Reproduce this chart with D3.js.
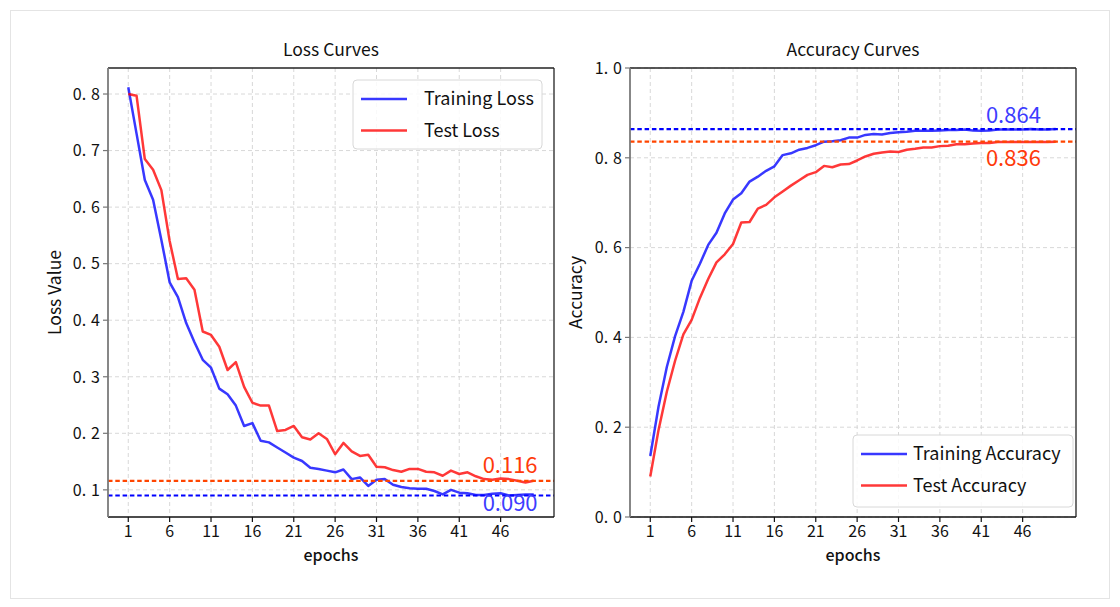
<!DOCTYPE html>
<html>
<head>
<meta charset="utf-8">
<script src="https://cdn.jsdelivr.net/npm/d3@7"></script>
<style>
    body { margin: 0; background: #fff; }
    svg text { font-family: "Noto Sans CJK SC", "Noto Sans", sans-serif; fill: #111; }
</style>
</head>
<body>
<div id="chart"></div>
<script>
// ---- data ----
const epochs = d3.range(1, 51);

const trainLoss = [
    0.812, 0.730, 0.648, 0.613, 0.542, 0.467, 0.441, 0.395, 0.361, 0.330,
    0.316, 0.279, 0.269, 0.249, 0.213, 0.218, 0.187, 0.184, 0.175, 0.166,
    0.157, 0.151, 0.139, 0.137, 0.134, 0.131, 0.136, 0.119, 0.122, 0.107,
    0.118, 0.119, 0.109, 0.105, 0.103, 0.102, 0.102, 0.098, 0.092, 0.100,
    0.095, 0.094, 0.091, 0.091, 0.093, 0.094, 0.090, 0.091, 0.092, 0.092
];
const testLoss = [
    0.800, 0.797, 0.685, 0.666, 0.630, 0.540, 0.473, 0.474, 0.454, 0.380,
    0.374, 0.353, 0.312, 0.326, 0.282, 0.254, 0.249, 0.249, 0.204, 0.206,
    0.213, 0.193, 0.189, 0.200, 0.190, 0.163, 0.183, 0.168, 0.160, 0.162,
    0.141, 0.140, 0.135, 0.132, 0.137, 0.137, 0.132, 0.131, 0.125, 0.134,
    0.128, 0.131, 0.124, 0.119, 0.118, 0.120, 0.119, 0.116, 0.113, 0.116
];
const trainAcc = [
    0.136, 0.246, 0.334, 0.403, 0.457, 0.526, 0.564, 0.606, 0.633, 0.676,
    0.707, 0.721, 0.747, 0.758, 0.771, 0.781, 0.806, 0.810, 0.818, 0.822,
    0.828, 0.836, 0.837, 0.839, 0.845, 0.845, 0.851, 0.853, 0.852, 0.855,
    0.857, 0.858, 0.860, 0.860, 0.860, 0.861, 0.862, 0.862, 0.863, 0.861,
    0.860, 0.861, 0.863, 0.863, 0.863, 0.863, 0.864, 0.863, 0.863, 0.864
];
const testAcc = [
    0.090, 0.194, 0.279, 0.348, 0.407, 0.439, 0.488, 0.530, 0.567, 0.585,
    0.608, 0.656, 0.657, 0.687, 0.695, 0.712, 0.725, 0.738, 0.750, 0.762,
    0.768, 0.782, 0.779, 0.785, 0.786, 0.794, 0.803, 0.809, 0.812, 0.814,
    0.813, 0.818, 0.820, 0.823, 0.823, 0.826, 0.827, 0.830, 0.830, 0.832,
    0.833, 0.833, 0.835, 0.835, 0.835, 0.835, 0.835, 0.835, 0.835, 0.836
];

const xTicks = [1, 6, 11, 16, 21, 26, 31, 36, 41, 46];
const lossTicks = [0.1, 0.2, 0.3, 0.4, 0.5, 0.6, 0.7, 0.8];
const accTicks = [0.0, 0.2, 0.4, 0.6, 0.8, 1.0];

const lossRefs = { train: 0.090, test: 0.116 };
const accRefs = { train: 0.864, test: 0.836 };

// ---- page ----
const width = 1120;
const height = 607;

const svg = d3.select('#chart')
    .append('svg')
    .attr('width', width)
    .attr('height', height);

svg.append('rect')
    .attr('x', 10.5).attr('y', 10.5)
    .attr('width', 1099).attr('height', 588)
    .attr('fill', '#fff')
    .attr('stroke', '#e4e4e4');

const trainColor = 'rgba(0, 0, 255, 0.78)';
const testColor = 'rgba(255, 0, 0, 0.78)';
const trainRef = '#0000ff';
const testRef = '#ff4500';

function drawPanel(cfg) {
    const x0 = cfg.left, x1 = cfg.right, y0 = 68, y1 = 517;

    const x = d3.scaleLinear().domain([-1.45, 52.45]).range([x0, x1]);
    const y = d3.scaleLinear().domain(cfg.yDomain).range([y1, y0]);

    const g = svg.append('g');

    // grid
    cfg.yTicks.forEach(function(t) {
        g.append('line')
            .attr('x1', x0).attr('x2', x1)
            .attr('y1', y(t)).attr('y2', y(t))
            .attr('stroke', '#d4d4d4').attr('stroke-width', 0.9)
            .attr('stroke-dasharray', '4,3');
    });
    xTicks.forEach(function(t) {
        g.append('line')
            .attr('x1', x(t)).attr('x2', x(t))
            .attr('y1', y0).attr('y2', y1)
            .attr('stroke', '#d4d4d4').attr('stroke-width', 0.9)
            .attr('stroke-dasharray', '4,3');
    });

    // curves
    const line = d3.line()
        .x(function(d, i) { return x(epochs[i]); })
        .y(function(d) { return y(d); });

    g.append('path').datum(cfg.train)
        .attr('d', line).attr('fill', 'none')
        .attr('stroke', trainColor).attr('stroke-width', 2.5)
        .attr('stroke-linejoin', 'round');
    g.append('path').datum(cfg.test)
        .attr('d', line).attr('fill', 'none')
        .attr('stroke', testColor).attr('stroke-width', 2.5)
        .attr('stroke-linejoin', 'round');

    // reference lines
    [[cfg.refs.test, testRef], [cfg.refs.train, trainRef]].forEach(function(r) {
        g.append('line')
            .attr('x1', x0).attr('x2', x1)
            .attr('y1', y(r[0])).attr('y2', y(r[0]))
            .attr('stroke', r[1]).attr('stroke-width', 2.2)
            .attr('stroke-dasharray', '4.5,2.8');
    });

    // spines
    g.append('line').attr('x1', x0).attr('x2', x1).attr('y1', y0).attr('y2', y0)
        .attr('stroke', '#222').attr('stroke-width', 1.3);
    g.append('line').attr('x1', x1).attr('x2', x1).attr('y1', y0).attr('y2', y1)
        .attr('stroke', '#222').attr('stroke-width', 1.3);
    g.append('line').attr('x1', x0).attr('x2', x1).attr('y1', y1).attr('y2', y1)
        .attr('stroke', '#111').attr('stroke-width', 1.5);
    g.append('line').attr('x1', x0).attr('x2', x0).attr('y1', y0).attr('y2', y1)
        .attr('stroke', '#7a7a7a').attr('stroke-width', 1.8);

    // x ticks
    xTicks.forEach(function(t) {
        g.append('line')
            .attr('x1', x(t)).attr('x2', x(t))
            .attr('y1', y1).attr('y2', y1 + 5)
            .attr('stroke', '#111').attr('stroke-width', 1.2);
        g.append('text')
            .attr('x', x(t)).attr('y', y1 + 20)
            .attr('text-anchor', 'middle')
            .attr('font-size', '16px')
            .text(t);
    });

    // y ticks, with the wide gap after the decimal point
    cfg.yTicks.forEach(function(t) {
        g.append('line')
            .attr('x1', x0 - 5).attr('x2', x0)
            .attr('y1', y(t)).attr('y2', y(t))
            .attr('stroke', '#777').attr('stroke-width', 1.2);
        const s = t.toFixed(1).split('.');
        const lbl = g.append('text')
            .attr('x', x0 - 8).attr('y', y(t))
            .attr('dy', '0.36em')
            .attr('text-anchor', 'end')
            .attr('font-size', '16px');
        lbl.append('tspan').text(s[0] + '.');
        lbl.append('tspan').attr('dx', 5).text(s[1]);
    });

    // titles
    g.append('text')
        .attr('x', (x0 + x1) / 2).attr('y', 56)
        .attr('text-anchor', 'middle')
        .attr('font-size', '17.5px')
        .text(cfg.title);
    g.append('text')
        .attr('x', (x0 + x1) / 2).attr('y', 561)
        .attr('text-anchor', 'middle')
        .attr('font-size', '16px')
        .attr('font-weight', 500)
        .text('epochs');
    g.append('text')
        .attr('transform', 'translate(' + cfg.yLabelX + ',' + ((y0 + y1) / 2) + ') rotate(-90)')
        .attr('text-anchor', 'middle')
        .attr('font-size', '17.5px')
        .text(cfg.yLabel);

    // value labels by the reference lines
    cfg.notes.forEach(function(n) {
        g.append('text')
            .attr('x', x0 + (x1 - x0) * n.fx)
            .attr('y', y(n.value) + n.dy)
            .attr('font-size', '22px')
            .style('fill', n.color)
            .text(n.value.toFixed(3));
    });

    // legend
    const L = cfg.legend;
    const legend = g.append('g');
    legend.append('rect')
        .attr('x', L.x).attr('y', L.y)
        .attr('width', L.w).attr('height', L.h)
        .attr('rx', 4)
        .attr('fill', 'rgba(255,255,255,0.85)')
        .attr('stroke', '#d8d8d8').attr('stroke-width', 1);
    [[cfg.labels[0], trainColor], [cfg.labels[1], testColor]].forEach(function(item, i) {
        const ly = L.y + L.row0 + i * 31.5;
        legend.append('line')
            .attr('x1', L.x + 8).attr('x2', L.x + 54)
            .attr('y1', ly).attr('y2', ly)
            .attr('stroke', item[1]).attr('stroke-width', 2.5);
        legend.append('text')
            .attr('x', L.x + L.textDx).attr('y', ly + 6)
            .attr('font-size', '18px')
            .text(item[0]);
    });
}

drawPanel({
    left: 108, right: 554,
    yDomain: [0.052, 0.846],
    yTicks: lossTicks,
    train: trainLoss, test: testLoss,
    refs: lossRefs,
    title: 'Loss Curves',
    yLabel: 'Loss Value',
    yLabelX: 61,
    labels: ['Training Loss', 'Test Loss'],
    legend: { x: 353, y: 80, w: 189, h: 69, row0: 19, textDx: 71 },
    notes: [
        { value: lossRefs.test, fx: 0.84, dy: -8, color: '#ff3a0a' },
        { value: lossRefs.train, fx: 0.84, dy: 15, color: '#3d3dff' }
    ]
});

drawPanel({
    left: 630, right: 1076,
    yDomain: [0, 1],
    yTicks: accTicks,
    train: trainAcc, test: testAcc,
    refs: accRefs,
    title: 'Accuracy Curves',
    yLabel: 'Accuracy',
    yLabelX: 582,
    labels: ['Training Accuracy', 'Test Accuracy'],
    legend: { x: 853, y: 435, w: 220, h: 72, row0: 19, textDx: 60 },
    notes: [
        { value: accRefs.train, fx: 0.798, dy: -6, color: '#3d3dff' },
        { value: accRefs.test, fx: 0.798, dy: 24, color: '#ff3a0a' }
    ]
});
</script>
</body>
</html>
